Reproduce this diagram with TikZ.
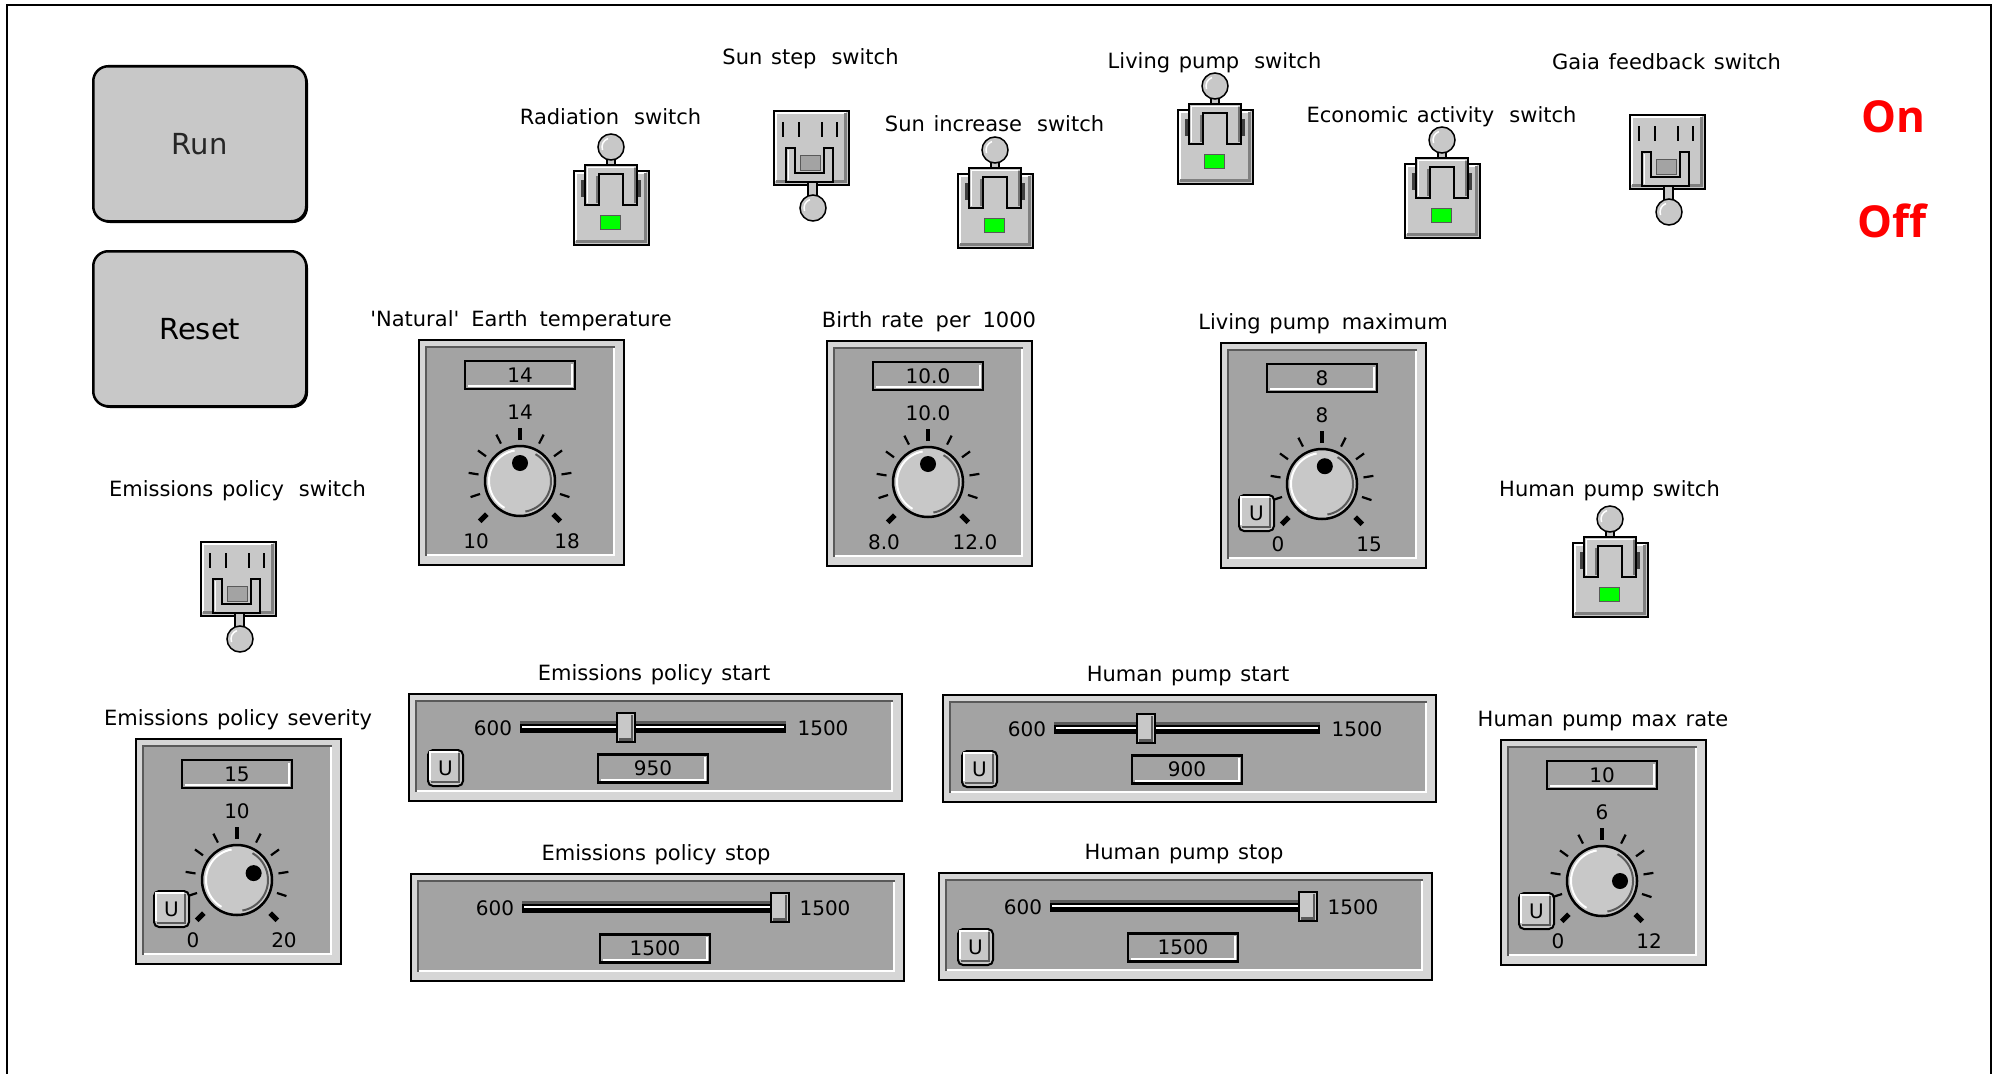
\documentclass[tikz,border=0pt]{standalone}
\usepackage{fontspec}
\setmainfont{DejaVu Sans}[WordSpace=1.3]
\newfontfamily\statusfont{Open Sans}

\definecolor{panel}{HTML}{A3A3A3}
\definecolor{face}{HTML}{C8C8C8}
\definecolor{bevel}{HTML}{D6D6D6}
\definecolor{darkedge}{HTML}{5A5A5A}
\definecolor{lampon}{HTML}{00FF00}

\newcommand\labelfont{\fontsize{21}{25}\selectfont}
\newcommand\numfont{\fontsize{20}{24}\selectfont}
\newcommand\wgap{\hspace{15pt}}
\newcommand\ngap{\hspace{12pt}}

\tikzset{
  lbl/.style={font=\labelfont, inner sep=0pt, text height=19pt, text depth=2pt},
  num/.style={font=\numfont, inner sep=0pt, text height=14.5pt, text depth=0pt},
  readout/.style={draw=black, line width=2.5pt, fill=panel, minimum width=110pt,
    minimum height=28pt, inner sep=0pt, font=\numfont, text height=14.5pt, text depth=0pt},
  ubtn/.style={draw=black, line width=2pt, rounded corners=5pt, fill=face, minimum width=35pt,
    minimum height=36pt, inner sep=0pt, font=\numfont, anchor=north west},
  dial/.style={circle, draw=black, line width=2.5pt, fill=face, minimum size=70pt, inner sep=0pt},
  ball/.style={circle, draw=black, line width=1.5pt, fill=face, minimum size=26pt, inner sep=0pt},
  framebox/.style={draw=black, line width=2pt, fill=bevel, inner sep=0pt, anchor=north west},
  togglebox/.style={draw=black, line width=2pt, fill=face, minimum width=75pt,
    minimum height=74pt, inner sep=0pt, anchor=north west},
  lamp/.style={draw=black!65, line width=1pt, minimum width=20pt, minimum height=14pt, inner sep=0pt},
  bigbtn/.style={draw=black, line width=2.5pt, rounded corners=15pt, fill=face, minimum width=213pt,
    minimum height=155pt, inner sep=0pt, anchor=north west, font=\fontsize{29}{34}\selectfont},
}

% small "U" button with its bevel: name, x, y
\newcommand\ubutton[3]{%
  \node[ubtn] (#1) at (#2,#3) {U};
  \draw[darkedge, line width=2pt] ({#2+4},{#3+33}) -- ({#2+32},{#3+33}) -- ({#2+32},{#3+4});
  \draw[white, line width=1.5pt] ({#2+3},{#3+31}) -- ({#2+3},{#3+3}) -- ({#2+31},{#3+3});}

% rotary dial panel: name, x, y, title, readout, middle mark, min, max, pointer angle
\newcommand\dialpanel[9]{%
  \begin{scope}[shift={(#2,#3)}]
    \node[framebox, minimum width=205pt, minimum height=225pt] (#1) at (0,0) {};
    \fill[panel] (8,8) rectangle (197,217);
    \draw[darkedge, line width=1.5pt] (8,217) -- (8,8) -- (197,8);
    \draw[white, line width=2pt] (9,216) -- (196,216) -- (196,9);
    \draw[black, line width=2pt] (1,226) -- (206,226) -- (206,1);
    \node[lbl] (#1-title) at (103,-21) {#4};
    \node[readout] (#1-readout) at (102,36) {#5};
    \draw[white, line width=1.5pt] (50,47) -- (154,47) -- (154,25);
    \node[num] (#1-mid) at (102,73) {#6};
    \foreach \k in {1,2,3,4,6,7,8,9}
      {\draw[line width=2.2pt] (102,142) ++({225-27*\k}:42pt) -- ++({225-27*\k}:10pt);}
    \draw[line width=4pt] (102,142) ++(90:41pt) -- ++(90:12pt);
    \draw[line width=5pt] (102,142) ++(225:47pt) -- ++(225:10pt);
    \draw[line width=5pt] (102,142) ++(-45:47pt) -- ++(-45:10pt);
    \node[dial] (#1-dial) at (102,142) {};
    \draw[white, line width=2pt] (102,142) ++(100:31pt) arc[start angle=100, end angle=240, radius=31pt];
    \draw[darkedge, line width=2pt] (102,142) ++(-80:31pt) arc[start angle=-80, end angle=60, radius=31pt];
    \fill (102,142) ++(#9:18pt) circle[radius=8pt];
    \node[num] (#1-min) at (58,202) {#7};
    \node[num] (#1-max) at (149,202) {#8};
  \end{scope}}

% horizontal slider panel: name, x, y, title, thumb position, readout
\newcommand\sliderpanel[6]{%
  \begin{scope}[shift={(#2,#3)}]
    \node[framebox, minimum width=493pt, minimum height=107pt] (#1) at (0,0) {};
    \fill[panel] (8,8) rectangle (485,99);
    \draw[darkedge, line width=1.5pt] (8,99) -- (8,8) -- (485,8);
    \draw[white, line width=2pt] (9,98) -- (484,98) -- (484,9);
    \draw[black, line width=2pt] (1,108) -- (494,108) -- (494,1);
    \node[lbl] (#1-title) at (246,-21) {#4};
    \node[num] (#1-min) at (85,35) {600};
    \node[num] (#1-max) at (415,35) {1500};
    \fill[darkedge] (112,28) rectangle (378,31);
    \fill[black] (112,31) rectangle (378,40);
    \draw[white, line width=2.5pt] (114,34) -- (376,34);
    \node[draw=black, line width=2pt, fill=face, minimum width=18pt, minimum height=29pt,
      inner sep=0pt] (#1-thumb) at (#5,34) {};
    \draw[darkedge, line width=2.5pt] ({#5+6},22) -- ({#5+6},46.5) -- ({#5-7},46.5);
    \node[readout] (#1-readout) at (245,75.5) {#6};
    \draw[white, line width=1.5pt] (193,87) -- (297,87) -- (297,64);
  \end{scope}}

% toggle switch, lever up (on): name, x, y, title, title offset
\newcommand\toggleup[5]{%
  \begin{scope}[shift={(#2,#3)}]
    \node[togglebox] (#1) at (0,0) {};
    \draw[white, line width=2pt] (2.5,71) -- (2.5,2.5) -- (73,2.5);
    \draw[black!50, line width=3pt] (3,71) -- (72,71) -- (72,3);
    \fill[black!75] (8,10) rectangle (13,27);
    \fill[black!75] (63,10) rectangle (68,27);
    \draw[fill=face, line width=1.5pt] (12,35) -- (12,-5) -- (64,-5) -- (64,35) -- (50,35)
      -- (50,4) -- (26,4) -- (26,35) -- cycle;
    \draw[white, line width=1.5pt] (14.5,33) -- (14.5,-2.5) -- (61,-2.5);
    \draw[black!55, line width=2pt] (23.5,33) -- (23.5,6);
    \draw[black!55, line width=2pt] (61.5,33) -- (61.5,-2);
    \draw[fill=face, line width=1.5pt] (34,-5) rectangle (42,-12);
    \node[ball] (#1-lever) at (38,-23) {};
    \draw[white, line width=1.5pt] (38,-23) ++(110:9pt) arc[start angle=110, end angle=200, radius=9pt];
    \node[lamp, fill=lampon] (#1-lamp) at (37,52) {};
    \node[lbl] (#1-title) at (37.5,#5) {#4};
  \end{scope}}

% toggle switch, lever down (off): name, x, y, title, title offset
\newcommand\toggledown[5]{%
  \begin{scope}[shift={(#2,#3)}]
    \node[togglebox] (#1) at (0,0) {};
    \draw[white, line width=2pt] (2.5,71) -- (2.5,2.5) -- (73,2.5);
    \draw[black!50, line width=3pt] (3,71) -- (72,71) -- (72,3);
    \foreach \t in {10,26,49,64} {\draw[line width=2pt] (\t,12) -- (\t,27);}
    \node[lamp, fill=panel, minimum height=15pt] (#1-lamp) at (37,52.5) {};
    \draw[fill=face, line width=1.5pt] (13,38) -- (13,72) -- (60,72) -- (60,38) -- (51,38)
      -- (51,63) -- (22,63) -- (22,38) -- cycle;
    \draw[white, line width=1.5pt] (15.5,40) -- (15.5,70);
    \draw[fill=face, line width=1.5pt] (35,72) rectangle (44,86);
    \node[ball] (#1-lever) at (40,98) {};
    \draw[white, line width=1.5pt] (40,98) ++(110:9pt) arc[start angle=110, end angle=200, radius=9pt];
    \node[lbl] (#1-title) at (37.5,#5) {#4};
  \end{scope}}

\begin{document}
\begin{tikzpicture}[x=1pt, y=-1pt]
  \useasboundingbox (0,0) rectangle (1993,1073);
  \fill[white] (0,0) rectangle (1993,1073);
  \draw[line width=2.5pt] (7,1085) -- (7,5) -- (1991,5) -- (1991,1085);

  % control buttons
  \fill[black, rounded corners=15pt] (95,68) rectangle (308,223);
  \node[bigbtn, text=black!85] (run) at (92,65) {Run};
  \fill[black, rounded corners=15pt] (95,253) rectangle (308,408);
  \node[bigbtn] (reset) at (92,250) {Reset};

  % state legend
  \node[font=\statusfont\bfseries\fontsize{44}{48}\selectfont, text=red, inner sep=0pt] (on) at (1893,117) {On};
  \node[font=\statusfont\bfseries\fontsize{44}{48}\selectfont, text=red, inner sep=0pt] (off) at (1892,221) {Off};

  % switches
  \toggleup{rad}{573}{170}{Radiation\wgap switch}{-54}
  \toggledown{sunstep}{773}{110}{Sun step\wgap switch}{-54}
  \toggleup{suninc}{957}{173}{Sun increase\wgap switch}{-50}
  \toggleup{livsw}{1177}{109}{Living pump\wgap switch}{-49}
  \toggleup{econ}{1404}{163}{Economic activity\wgap switch}{-49}
  \toggledown{gaia}{1629}{114}{Gaia feedback switch}{-53}
  \toggledown{emisw}{200}{541}{Emissions policy\wgap switch}{-53}
  \toggleup{humsw}{1572}{542}{Human pump switch}{-54}

  % dials
  \dialpanel{natural}{418}{339}{\textquotesingle Natural\textquotesingle\ngap Earth\ngap temperature}{14}{14}{10}{18}{90}
  \dialpanel{birth}{826}{340}{Birth rate\ngap per\ngap 1000}{10.0}{10.0}{8.0}{12.0}{90}
  \dialpanel{livmax}{1220}{342}{Living pump\ngap maximum}{8}{8}{0}{15}{81}
  \dialpanel{severity}{135}{738}{Emissions policy severity}{15}{10}{0}{20}{22.5}
  \dialpanel{hummax}{1500}{739}{Human pump max rate}{10}{6}{0}{12}{0}
  \ubutton{livmax-u}{1238}{494}
  \ubutton{severity-u}{153}{890}
  \ubutton{hummax-u}{1518}{892}

  % sliders
  \sliderpanel{epstart}{408}{693}{Emissions policy start}{218}{950}
  \sliderpanel{hpstart}{942}{694}{Human pump start}{204}{900}
  \sliderpanel{epstop}{410}{873}{Emissions policy stop}{370}{1500}
  \sliderpanel{hpstop}{938}{872}{Human pump stop}{370}{1500}
  \ubutton{epstart-u}{427}{749}
  \ubutton{hpstart-u}{961}{750}
  \ubutton{hpstop-u}{957}{928}
\end{tikzpicture}
\end{document}
